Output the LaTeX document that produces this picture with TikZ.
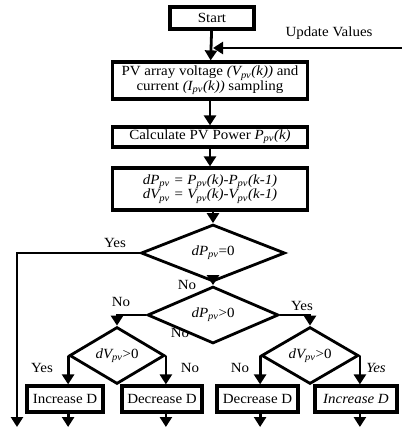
\documentclass[tikz,border=0pt]{standalone}
\usepackage{fontspec}
\setmainfont{Liberation Serif}[FakeStretch=1.07]
\usetikzlibrary{arrows.meta,shapes.geometric}

\begin{document}
\begin{tikzpicture}[x=1pt,y=-1pt,
	font=\fontsize{14}{14.5}\selectfont,
	caja/.style={rectangle, draw, line width=3.2pt, inner sep=0pt, align=center},
	rombo/.style={diamond, draw, line width=2.8pt, inner sep=0pt},
	flecha/.style={line width=2.8pt, -{Triangle[width=12pt,length=10pt]}}]

		\useasboundingbox (0,0) rectangle (401,427);

		% Nodes
		\node[caja, minimum width=84, minimum height=22] (start) at (212,18) {Start};
		\node (update) at (329,33) {Update Values};
		\coordinate (feed) at (402,48);
		\coordinate (join) at (213,48);

		\node[caja, minimum width=195, minimum height=37] (sampling) at (210,80.5) {PV array voltage \textit{(V\textsubscript{pv}(k))} and\\ current \textit{(I\textsubscript{pv}(k))} sampling};
		\node[caja, minimum width=195, minimum height=20] (power) at (210,137) {Calculate PV Power \textit{P\textsubscript{pv}(k)}};
		\node[caja, minimum width=195, minimum height=42] (diff) at (210,189) {\itshape dP\textsubscript{pv} = P\textsubscript{pv}(k)-P\textsubscript{pv}(k-1)\\ \itshape dV\textsubscript{pv} = V\textsubscript{pv}(k)-V\textsubscript{pv}(k-1)};

		\node[rombo, minimum width=144, minimum height=40] (checkzero) at (213,253) {\textit{dP\textsubscript{pv}}=0};
		\node[rombo, minimum width=131, minimum height=40] (checkpos) at (213,315) {\textit{dP\textsubscript{pv}}>0};
		\node[rombo, minimum width=95, minimum height=45] (checkvl) at (117,355.5) {\textit{dV\textsubscript{pv}}>0};
		\node[rombo, minimum width=97, minimum height=45] (checkvr) at (310,355.5) {\textit{dV\textsubscript{pv}}>0};

		\node[caja, minimum width=76, minimum height=26] (incl) at (65,399) {Increase D};
		\node[caja, minimum width=80, minimum height=26] (decl) at (162,399) {Decrease D};
		\node[caja, minimum width=81, minimum height=26] (decr) at (257.5,399) {Decrease D};
		\node[caja, minimum width=82, minimum height=26] (incr) at (356,399) {\textit{Increase D}};

		\coordinate (exit) at (17,427);

		% Labels
		\node (yeszero) at (115,243) {Yes};
		\node (nozero) at (187,285) {No};
		\node (nopos) at (121,302) {No};
		\node (yespos) at (302,306) {Yes};
		\node (nomid) at (180,333) {No};
		\node (yesvl) at (42,368) {Yes};
		\node (novl) at (190,368) {No};
		\node (novr) at (240,368) {No};
		\node (yesvr) at (376,368) {\textit{Yes}};

		% Edges
		\draw[flecha] (start) -- (sampling);
		\draw[flecha] (feed) -- (join);
		\draw[flecha] (sampling) -- (power);
		\draw[flecha] (power) -- (diff);
		\draw[flecha] (diff.south -| checkzero) -- (checkzero);
		\draw[flecha] (checkzero.west) -| (exit);
		\draw[flecha] (checkzero) -- (checkpos);
		\draw[flecha] (checkpos.west) -| (checkvl.north);
		\draw[flecha] (checkpos.east) -| (checkvr.north);
		\draw[flecha] (checkvl.west) -- (checkvl.west |- incl.north);
		\draw[flecha] (checkvl.east) -- (checkvl.east |- decl.north);
		\draw[flecha] (checkvr.west) -- (checkvr.west |- decr.north);
		\draw[flecha] (checkvr.east) -- (checkvr.east |- incr.north);
		\draw[flecha] (checkvl.west |- incl.south) -- (checkvl.west |- exit);
		\draw[flecha] (checkvl.east |- decl.south) -- (checkvl.east |- exit);
		\draw[flecha] (checkvr.west |- decr.south) -- (checkvr.west |- exit);
		\draw[flecha] (checkvr.east |- incr.south) -- (checkvr.east |- exit);

	\end{tikzpicture}
\end{document}
